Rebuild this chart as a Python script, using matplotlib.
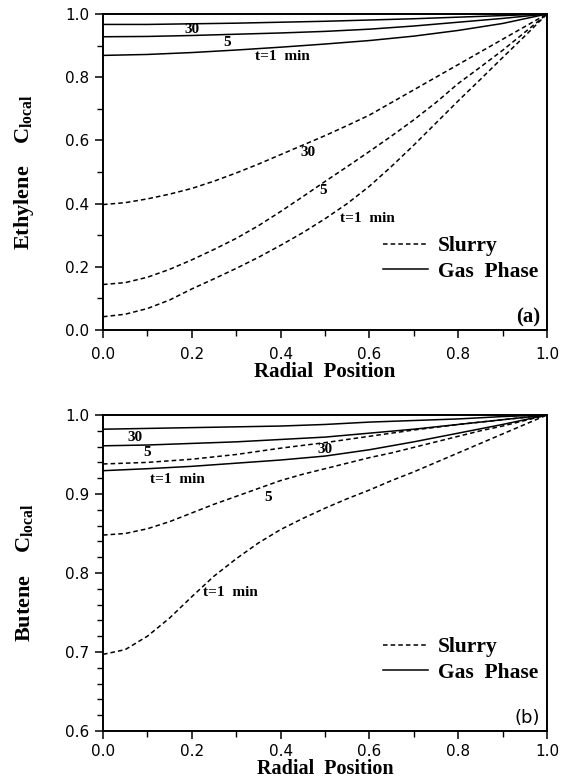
import numpy as np
import matplotlib
matplotlib.use('Agg')
import matplotlib.pyplot as plt
from matplotlib.lines import Line2D
from matplotlib.ticker import MultipleLocator

plt.rcParams['font.family'] = 'DejaVu Sans'
plt.rcParams['mathtext.fontset'] = 'custom'
plt.rcParams['mathtext.bf'] = 'Liberation Serif:bold'
plt.rcParams['mathtext.rm'] = 'Liberation Serif:bold'

##### Perfiles radiales de concentracion local #####

x = [0.0, 0.1, 0.2, 0.3, 0.4, 0.5, 0.6, 0.7, 0.8, 0.9, 1.0]
xf = [0.0, 0.05, 0.1, 0.15, 0.2, 0.25, 0.3, 0.35, 0.4, 0.45, 0.5,
      0.55, 0.6, 0.65, 0.7, 0.75, 0.8, 0.85, 0.9, 0.95, 1.0]

# (a) Etileno
eth_gas_1 = [0.869, 0.872, 0.878, 0.886, 0.895, 0.905, 0.916, 0.930, 0.948, 0.970, 1.0]
eth_gas_5 = [0.928, 0.929, 0.932, 0.936, 0.940, 0.945, 0.952, 0.962, 0.974, 0.986, 1.0]
eth_gas_30 = [0.967, 0.967, 0.969, 0.971, 0.974, 0.977, 0.981, 0.985, 0.990, 0.995, 1.0]
eth_sl_1 = [0.042, 0.050, 0.068, 0.095, 0.130, 0.162, 0.195, 0.230, 0.268, 0.308, 0.352,
            0.400, 0.455, 0.518, 0.585, 0.655, 0.725, 0.793, 0.862, 0.930, 1.0]
eth_sl_5 = [0.144, 0.150, 0.167, 0.192, 0.222, 0.255, 0.290, 0.330, 0.375, 0.422, 0.470,
            0.517, 0.565, 0.614, 0.665, 0.720, 0.780, 0.832, 0.885, 0.942, 1.0]
eth_sl_30 = [0.397, 0.403, 0.415, 0.430, 0.448, 0.471, 0.497, 0.525, 0.555, 0.585, 0.615,
             0.647, 0.680, 0.720, 0.760, 0.800, 0.840, 0.880, 0.920, 0.960, 1.0]

# (b) Buteno
but_gas_1 = [0.9295, 0.932, 0.935, 0.939, 0.943, 0.948, 0.956, 0.966, 0.977, 0.988, 1.0]
but_gas_5 = [0.961, 0.962, 0.964, 0.966, 0.969, 0.972, 0.977, 0.982, 0.988, 0.994, 1.0]
but_gas_30 = [0.982, 0.983, 0.984, 0.985, 0.986, 0.988, 0.991, 0.993, 0.995, 0.998, 1.0]
but_sl_5 = [0.848, 0.850, 0.856, 0.865, 0.876, 0.887, 0.897, 0.907, 0.917, 0.925, 0.932,
            0.939, 0.946, 0.952, 0.959, 0.966, 0.973, 0.980, 0.986, 0.993, 1.0]
but_sl_30 = [0.938, 0.940, 0.944, 0.950, 0.958, 0.965, 0.973, 0.981, 0.988, 0.994, 1.0]
but_sl_1 = [0.697, 0.703, 0.720, 0.743, 0.770, 0.796, 0.818, 0.838, 0.855, 0.869, 0.882,
            0.894, 0.905, 0.917, 0.928, 0.940, 0.952, 0.964, 0.976, 0.988, 1.0]

# etiquetas de las curvas: (texto, x, y)
eth_labels = [('30', 0.20, 0.950), ('5', 0.28, 0.911), ('t=1  min', 0.405, 0.864),
              ('30', 0.462, 0.563), ('5', 0.496, 0.442), ('t=1  min', 0.595, 0.352)]
but_labels = [('30', 0.072, 0.972), ('5', 0.10, 0.952), ('t=1  min', 0.167, 0.918),
              ('30', 0.50, 0.956), ('5', 0.373, 0.896), ('t=1  min', 0.287, 0.775)]

serif = 'Liberation Serif'
dash = (0, (3.0, 2.0))
lw = 1.1

fig = plt.figure(figsize=(5.65, 7.78), dpi=100)
ax1 = fig.add_axes([0.1823, 0.5758, 0.7858, 0.4062])
ax2 = fig.add_axes([0.1823, 0.0604, 0.7858, 0.4062])

def estilo(ax, ymin, ymax, ymaj, ymin_step, ylab, tag, tag_font, tpad, xpad, xsize):
    ax.set_xlim(0, 1)
    ax.set_ylim(ymin, ymax)
    ax.xaxis.set_major_locator(MultipleLocator(0.2))
    ax.xaxis.set_minor_locator(MultipleLocator(0.1))
    ax.yaxis.set_major_locator(MultipleLocator(ymaj))
    ax.yaxis.set_minor_locator(MultipleLocator(ymin_step))
    ax.tick_params(which='major', direction='out', length=6, width=1.1, labelsize=11, pad=4)
    ax.tick_params(axis='x', which='major', pad=tpad)
    ax.tick_params(which='minor', direction='out', length=4, width=1.0)
    for s in ax.spines.values():
        s.set_linewidth(1.4)
    ax.set_xlabel('Radial  Position', fontfamily=serif, fontweight='bold', fontsize=xsize,
                  labelpad=xpad)
    ax.set_ylabel(ylab, fontfamily=serif, fontweight='bold', fontsize=16)
    ax.yaxis.set_label_coords(-0.15, 0.5)
    ax.text(0.985, 0.04, tag, transform=ax.transAxes, ha='right', va='center', **tag_font)
    handles = [Line2D([], [], color='k', lw=lw, linestyle=dash),
               Line2D([], [], color='k', lw=lw)]
    ax.legend(handles, ['Slurry', 'Gas  Phase'], loc='center left', bbox_to_anchor=(0.63, 0.225),
              frameon=False, borderpad=0, borderaxespad=0, handlelength=2.1, handletextpad=0.45,
              labelspacing=0.25, prop={'family': serif, 'weight': 'bold', 'size': 15.5})

# Grafica (a)
for g in [eth_gas_1, eth_gas_5, eth_gas_30]:
    ax1.plot(x, g, color='k', lw=lw)
for s in [eth_sl_1, eth_sl_5, eth_sl_30]:
    ax1.plot(xf, s, color='k', lw=lw, linestyle=dash)
for t, tx, ty in eth_labels:
    ax1.text(tx, ty, t, ha='center', va='center', fontfamily=serif, fontweight='bold', fontsize=11)
estilo(ax1, 0.0, 1.0, 0.2, 0.1, 'Ethylene    $\\mathbf{C}_{\\mathbf{local}}$', '(a)',
       {'fontfamily': serif, 'fontweight': 'bold', 'fontsize': 15}, 6, 0, 15)

# Grafica (b)
for g in [but_gas_1, but_gas_5, but_gas_30]:
    ax2.plot(x, g, color='k', lw=lw)
ax2.plot(x, but_sl_30, color='k', lw=lw, linestyle=dash)
for s in [but_sl_5, but_sl_1]:
    ax2.plot(xf, s, color='k', lw=lw, linestyle=dash)
for t, tx, ty in but_labels:
    ax2.text(tx, ty, t, ha='center', va='center', fontfamily=serif, fontweight='bold', fontsize=11)
estilo(ax2, 0.6, 1.0, 0.1, 0.02, 'Butene    $\\mathbf{C}_{\\mathbf{local}}$', '(b)',
       {'fontfamily': 'DejaVu Sans', 'fontsize': 13}, 3.5, 0, 14.5)

fig.savefig('out.png', dpi=100)
